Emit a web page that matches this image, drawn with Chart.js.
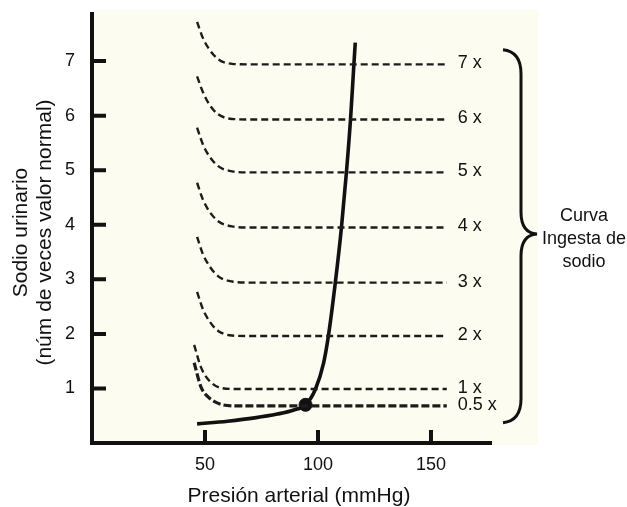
<!DOCTYPE html>
<html>
<head>
<meta charset="utf-8">
<script src="https://cdn.jsdelivr.net/npm/chart.js@4.4.1/dist/chart.umd.min.js"></script>
<style>
    html, body { margin: 0; padding: 0; background: #fff; }
    #wrap { width: 627px; height: 507px; }
</style>
</head>
<body>
<div id="wrap"><canvas id="sodiumChart" width="627" height="507"></canvas></div>
<script>
// tick labels
const xTicks = [50, 100, 150];
const yTicks = [1, 2, 3, 4, 5, 6, 7];

// sodium intake curves (dashed)
const intakeLabels = ['7 x', '6 x', '5 x', '4 x', '3 x', '2 x', '1 x', '0.5 x'];
const highX = [46.5, 49, 52, 56, 62, 70, 157];
const lowX = [45.2, 48.2, 51.5, 57, 64, 72, 157];
const level7Y = [7.72, 7.43, 7.21, 7.03, 6.95, 6.94, 6.94];
const level6Y = [6.72, 6.44, 6.20, 6.02, 5.94, 5.93, 5.93];
const level5Y = [5.78, 5.48, 5.25, 5.07, 4.98, 4.96, 4.96];
const level4Y = [4.77, 4.47, 4.24, 4.06, 3.97, 3.95, 3.95];
const level3Y = [3.78, 3.47, 3.24, 3.05, 2.96, 2.94, 2.94];
const level2Y = [2.77, 2.46, 2.23, 2.05, 1.97, 1.96, 1.96];
const level1Y = [1.80, 1.39, 1.16, 1.01, 0.99, 0.99, 0.99];
const level05Y = [1.47, 1.03, 0.84, 0.71, 0.68, 0.68, 0.68];

// renal output curve (solid)
const pressureX = [46.5, 60, 72, 82, 89, 94.5, 98.9, 102.5, 104.6, 107.7, 110.4, 112.6, 114.4, 115.9, 116.5];
const outputY = [0.35, 0.40, 0.46, 0.53, 0.60, 0.70, 0.99, 1.47, 1.96, 2.95, 3.96, 4.97, 5.93, 6.95, 7.34];

// equilibrium point
const eqX = [94.5];
const eqY = [0.70];

const FONT = '"Liberation Sans", Arial, Helvetica, sans-serif';
const INK = '#111';

function pts(xs, ys) {
    return xs.map((x, i) => ({x: x, y: ys[i]}));
}

function dashed(label, xs, ys, thick) {
    return {
        label: label,
        levelLabel: label,
        data: pts(xs, ys),
        showLine: true,
        borderColor: '#1c1c1c',
        borderWidth: thick ? 3.2 : 2.4,
        borderDash: thick ? [8, 3] : [7, 4],
        cubicInterpolationMode: 'monotone',
        pointRadius: 0,
    };
}

const levelsY = [level7Y, level6Y, level5Y, level4Y, level3Y, level2Y, level1Y, level05Y];
const datasets = levelsY.map((ys, i) => dashed(intakeLabels[i], i < 6 ? highX : lowX, ys, i === 7));

datasets.push({
    label: 'Excreción',
    data: pts(pressureX, outputY),
    showLine: true,
    borderColor: INK,
    borderWidth: 3.6,
    cubicInterpolationMode: 'monotone',
    pointRadius: 0,
});
datasets.push({
    label: 'Equilibrio',
    data: pts(eqX, eqY),
    showLine: false,
    pointRadius: 6.5,
    backgroundColor: INK,
    borderColor: INK,
});

const framePlugin = {
    id: 'frame',
    beforeDatasetsDraw(chart) {
        const {ctx, chartArea: a} = chart;
        ctx.save();
        ctx.fillStyle = '#fcfcf0';
        ctx.fillRect(a.left, a.top - 2, a.right + 46 - a.left, a.bottom + 2 - (a.top - 2));
        ctx.restore();
    },
    afterDraw(chart) {
        const {ctx, chartArea: a, scales} = chart;
        ctx.save();
        ctx.strokeStyle = INK;
        ctx.lineWidth = 4;
        ctx.beginPath();
        ctx.moveTo(a.left, a.top);
        ctx.lineTo(a.left, a.bottom + 2);
        ctx.moveTo(a.left - 2, a.bottom);
        ctx.lineTo(a.right, a.bottom);
        ctx.stroke();

        // inner tick marks
        ctx.beginPath();
        scales.y.ticks.forEach(t => {
            const py = scales.y.getPixelForValue(t.value);
            ctx.moveTo(a.left, py);
            ctx.lineTo(a.left + 14, py);
        });
        scales.x.ticks.forEach(t => {
            const px = scales.x.getPixelForValue(t.value);
            ctx.moveTo(px, a.bottom);
            ctx.lineTo(px, a.bottom - 13);
        });
        ctx.stroke();

        // level labels at the end of each dashed curve
        ctx.fillStyle = INK;
        ctx.font = '18px ' + FONT;
        ctx.textAlign = 'left';
        ctx.textBaseline = 'middle';
        chart.data.datasets.forEach((ds, i) => {
            if (!ds.levelLabel) return;
            const meta = chart.getDatasetMeta(i);
            const last = meta.data[meta.data.length - 1];
            ctx.fillText(ds.levelLabel, last.x + 11, last.y - 1);
        });

        // brace
        const top = scales.y.getPixelForValue(7.21);
        const tip = scales.y.getPixelForValue(3.83);
        const bot = scales.y.getPixelForValue(0.37);
        const hx = a.right + 11, vx = a.right + 29, tx = a.right + 45;
        ctx.lineWidth = 3;
        ctx.beginPath();
        ctx.moveTo(hx, top);
        ctx.quadraticCurveTo(vx, top + 2, vx, top + 24);
        ctx.lineTo(vx, tip - 22);
        ctx.quadraticCurveTo(vx, tip - 1, tx, tip);
        ctx.quadraticCurveTo(vx, tip + 1, vx, tip + 22);
        ctx.lineTo(vx, bot - 24);
        ctx.quadraticCurveTo(vx, bot - 2, hx, bot);
        ctx.stroke();

        ctx.textAlign = 'center';
        const cx = a.right + 92;
        ctx.fillText('Curva', cx, tip - 18);
        ctx.fillText('Ingesta de', cx, tip + 5);
        ctx.fillText('sodio', cx, tip + 28);

        // axis titles
        ctx.font = '21px ' + FONT;
        ctx.fillText('Presión arterial (mmHg)', (a.left + a.right) / 2 + 7, a.bottom + 53);
        ctx.translate(0, (a.top + a.bottom) / 2 + 5);
        ctx.rotate(-Math.PI / 2);
        ctx.fillText('Sodio urinario', 0, 21);
        ctx.fillText('(núm de veces valor normal)', 0, 45);
        ctx.restore();
    }
};

new Chart(document.getElementById('sodiumChart'), {
    type: 'scatter',
    data: {datasets: datasets},
    plugins: [framePlugin],
    options: {
        responsive: false,
        animation: false,
        devicePixelRatio: 1,
        layout: {padding: {top: 12, right: 135, bottom: 0, left: 0}},
        plugins: {legend: {display: false}, tooltip: {enabled: false}},
        scales: {
            x: {
                type: 'linear',
                min: 0,
                max: 177,
                grid: {display: false},
                border: {display: false},
                afterBuildTicks: scale => { scale.ticks = xTicks.map(v => ({value: v})); },
                afterFit: scale => {
                    scale.height = 64;
                    scale.paddingLeft = 0;
                    scale.paddingRight = 0;
                },
                ticks: {color: INK, font: {family: FONT, size: 18}, padding: 3},
            },
            y: {
                type: 'linear',
                min: 0,
                max: 7.9,
                grid: {display: false},
                border: {display: false},
                afterBuildTicks: scale => { scale.ticks = yTicks.map(v => ({value: v})); },
                afterFit: scale => {
                    scale.width = 92;
                    scale.paddingTop = 0;
                    scale.paddingBottom = 0;
                },
                ticks: {color: INK, font: {family: FONT, size: 18}, padding: 9},
            },
        },
    },
});
</script>
</body>
</html>
